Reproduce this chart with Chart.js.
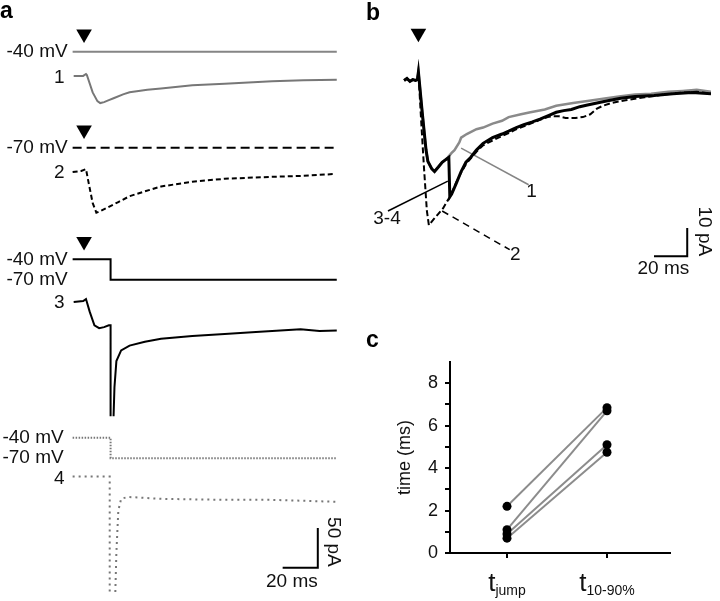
<!DOCTYPE html>
<html lang="en">
<head>
<meta charset="utf-8">
<title>Flash responses and voltage jumps</title>
<script src="https://cdn.jsdelivr.net/npm/chart.js@4.4.1/dist/chart.umd.min.js"></script>
<style>
  html, body { margin: 0; padding: 0; background: #fff; }
  #fig { position: relative; width: 720px; height: 601px; overflow: hidden; }
  #fig canvas { position: absolute; }
  #panelA { left: 0; top: 0; }
  #panelB { left: 360px; top: 0; }
  #panelC { left: 360px; top: 300px; }
</style>
</head>
<body>
<div id="fig">
  <canvas id="panelA" width="360" height="601"></canvas>
  <canvas id="panelB" width="360" height="300"></canvas>
  <canvas id="panelC" width="360" height="301"></canvas>
</div>
<script>
"use strict";

const FONT = '"Liberation Sans", Arial, sans-serif';
const GRAY = "#858585";
const LABEL_SIZE = 19;

/*---- Panel a: command potential (mV) and currents (pA), time in ms from the flash ----*/
const stepTime = [-6.5, 15.1, 15.1, 143.8];
const hold1 = [-40, -40, -40, -40];
const hold2 = [-70, -70, -70, -70];
const jump3 = [-40, -40, -70, -70];
const jump4 = [-40, -40, -70, -70];

const t1 = [-5.9, -0.5, 1.1, 1.6, 4.9, 7.6, 9.2, 11.4, 14.1, 16.8, 22.2, 25.9, 30, 36, 43.8, 61.6, 80, 107, 124.9, 143.8];
const i1 = [0, 0, 2.4, 1.2, -20.7, -31.7, -34.1, -32.9, -30.5, -28, -23.2, -20.5, -19.2, -17.5, -15.9, -11.8, -9.8, -6.6, -5.5, -4.9];

const t2 = [-6.5, -1.6, 1.1, 2.7, 4.9, 7, 9.7, 13, 19.5, 25.9, 34.6, 43.8, 61.6, 80, 107, 125, 142.7];
const i2 = [-1.2, 0, 2.4, -15.9, -40.2, -52.4, -50, -46.3, -39, -31.7, -25.6, -19.5, -13.4, -9.8, -7.3, -6.1, -3.7];

//null = trace runs off the bottom (clipped in the figure)
const t3 = [-5.9, -0.5, 1.1, 3.2, 5.9, 8.6, 11.4, 14.1, 15.1, 15.1, 16, 16.8, 17.3, 18.4, 21.1, 25.9, 34.6, 43.8, 61.6, 80, 97.8, 123.2, 134, 143.8];
const i3 = [-1.2, 0, 2.4, -13.4, -30.5, -34.1, -32.9, -30.5, -30.5, -145, null, -145, -108.5, -75.6, -62.2, -56.1, -51.2, -47.6, -43.9, -41.5, -39, -35.4, -37.8, -37.2];

const t4 = [-6.5, 14.6, 14.6, 16, 17.8, 18.4, 19.5, 21.1, 24.9, 43.8, 80, 107, 143.8];
const i4 = [0, 0, -145, null, -145, -95, -42.7, -28, -25.6, -28, -29.3, -29.3, -31.7];

const barA = { t: 113, i: -114.6, ms: 20, pA: 50 };

/*---- Panel b: the same currents overlaid at higher gain ----*/
const tB1 = [-8.6, -6.9, -5.1, -3.4, -1.7, -0.6, 0, 2.3, 4.6, 5.7, 8, 9.7, 12, 14.3, 16.6, 17.7, 20, 21.7, 24.6, 25.7, 29.1, 34.9, 38.9, 44.6, 50.3, 54.3, 61.7, 67.4, 76, 82.9, 93.1, 101.7, 113.1, 120.6, 130.3, 140, 150.3, 158.9, 167.4, 176];
const iB1 = [0, 0.7, -0.3, 0.3, 0, 0.3, 3, -11.3, -24.7, -28.7, -31.3, -32.3, -30.7, -29, -28, -27.3, -25.7, -24.7, -22, -20.3, -19, -17.3, -16.7, -15.3, -14.3, -13, -12, -11.3, -10.3, -9, -8, -7.3, -6.3, -5.7, -5, -4.7, -4, -3.7, -3.3, -4];

const tB2 = [-8.6, -6.9, -5.1, -3.4, -1.7, -0.6, 0, 1.7, 3.4, 5.1, 6.3, 9.1, 12, 14.9, 17.1, 18.9, 20, 22.9, 25.7, 28.6, 31.4, 34.9, 38.9, 44.6, 50.3, 54.3, 58.9, 63.4, 68.6, 73.1, 77.7, 80.6, 84.6, 88.6, 94.3, 98.9, 103.4, 107.4, 110.9, 116, 124.6, 136, 147.4, 158.9, 167.4, 176];
const iB2 = [0, 0.7, -0.3, 0.3, 0, 0.3, 3, -14.7, -31.3, -46.3, -51.3, -49.3, -47.3, -45.3, -43, -41.3, -40, -36, -32.7, -29.7, -27.7, -25.3, -23, -21.3, -19.7, -18.7, -17.3, -16.3, -15, -14, -13, -12.7, -12.7, -13.3, -13.3, -13, -12, -10, -9, -8, -7, -6, -5, -4.3, -4, -4.7];

const tB34 = [-8.6, -6.9, -5.1, -3.4, -1.7, -0.6, 0, 2.3, 4.6, 5.7, 8, 9.7, 12, 14.3, 16.6, 18.3, 18.9, 20, 22.9, 25.7, 28.6, 31.4, 34.9, 38.9, 44.6, 50.3, 54.3, 58.9, 63.4, 68.6, 73.1, 78.9, 82.9, 87.4, 92, 97.1, 101.7, 107.4, 113.1, 121.7, 130.3, 141.7, 153.1, 164.6, 176];
const iB34 = [0, 0.7, -0.3, 0.3, 0, 0.3, 3, -11.3, -24.7, -28.7, -31.3, -32.3, -30.7, -29, -28, -27.3, -41.3, -40.3, -36.3, -32.3, -29, -27.3, -24.7, -22.3, -20.3, -19, -18, -16.7, -15.7, -14.7, -13.7, -12.3, -11.3, -10.7, -10.3, -9.3, -8.7, -8, -7.3, -6.3, -5.7, -5.3, -4.7, -4.3, -4.7];

const barB = { t: 141.7, i: -62.3, ms: 20, pA: 10 };

/*---- Panel c: jump time vs 10-90% rise time ----*/
const CATS = ["jump", "10-90%"];
const tJump = [2.2, 1.1, 0.9, 0.7];
const t1090 = [6.85, 6.7, 5.1, 4.75];
const yTicks = [0, 1, 2, 3, 4, 5, 6, 7, 8];

/*---- helpers ----*/
function pts(xs, ys) {
  return xs.map((x, k) => ({ x: x, y: ys[k] }));
}

//hidden axis where value ref sits at pixel px, gain = pixels per unit
function xAxis(ref, px, gain, size) {
  return { type: "linear", display: false, min: ref - px / gain, max: ref + (size - px) / gain };
}
function yAxis(ref, px, gain, size) {
  return { type: "linear", axis: "y", position: "left", display: false,
    min: ref - (size - px) / gain, max: ref + px / gain };
}

function trace(data, axis, color, width, dash, order) {
  return {
    data: data, yAxisID: axis, borderColor: color, borderWidth: width,
    borderDash: dash || [], borderCapStyle: "butt", borderJoinStyle: "miter",
    pointRadius: 0, fill: false, tension: 0, spanGaps: false, order: order || 0
  };
}

function flashMark(y, axis) {
  return {
    data: [{ x: 0, y: y }], yAxisID: axis, showLine: false,
    pointStyle: "triangle", rotation: 180, pointRadius: 9,
    backgroundColor: "#000", borderWidth: 0, order: 0
  };
}

function scaleBar(b, axis) {
  return trace([
    { x: b.t, y: b.i },
    { x: b.t + b.ms, y: b.i },
    { x: b.t + b.ms, y: b.i + b.pA }
  ], axis, "#000", 2);
}

function drawText(ctx, text, x, y, o) {
  o = o || {};
  ctx.save();
  ctx.font = (o.bold ? "bold " : "") + (o.size || LABEL_SIZE) + "px " + FONT;
  ctx.fillStyle = o.color || "#111";
  ctx.textAlign = o.align || "left";
  ctx.textBaseline = o.baseline || "middle";
  ctx.translate(x, y);
  if (o.rotate) ctx.rotate(o.rotate);
  ctx.fillText(text, 0, 0);
  ctx.restore();
}

Chart.defaults.font.family = FONT;
const baseOptions = {
  responsive: false,
  animation: false,
  devicePixelRatio: 1,
  events: [],
  plugins: { legend: { display: false }, tooltip: { enabled: false } }
};

/*---- Panel a ----*/
const A_MS = 1.85, A_PA = 0.82, A_MV = 0.7;   //px per ms, pA, mV
const ARROW_MV = 26;                           //flash arrow sits above the holding line

const holdLabelsA = [
  { text: "-40 mV", axis: "v1", value: -40, gap: 5 },
  { text: "-70 mV", axis: "v2", value: -70, gap: 5 },
  { text: "-40 mV", axis: "v3", value: -40, gap: 5 },
  { text: "-70 mV", axis: "v3", value: -70, gap: 5 },
  { text: "-40 mV", axis: "v4", value: -40, gap: 9 },
  { text: "-70 mV", axis: "v4", value: -70, gap: 9 }
];
const traceLabelsA = [
  { text: "1", axis: "i1" }, { text: "2", axis: "i2" },
  { text: "3", axis: "i3" }, { text: "4", axis: "i4" }
];

const panelAText = {
  id: "panelAText",
  afterDraw(chart) {
    const { ctx, scales } = chart;
    const x0 = scales.x.getPixelForValue(stepTime[0]);
    drawText(ctx, "a", 0, 18, { size: 23, bold: true, baseline: "alphabetic", color: "#000" });
    holdLabelsA.forEach(l => {
      drawText(ctx, l.text, x0 - l.gap, scales[l.axis].getPixelForValue(l.value), { align: "right" });
    });
    traceLabelsA.forEach(l => {
      drawText(ctx, l.text, x0 - 8, scales[l.axis].getPixelForValue(0) + 2, { align: "right" });
    });
    const bx = scales.x.getPixelForValue(barA.t + barA.ms);
    const by = scales.i4.getPixelForValue(barA.i);
    drawText(ctx, barA.ms + " ms", bx, by + 14, { align: "right" });
    drawText(ctx, barA.pA + " pA", bx + 15, by - 1, { align: "right", rotate: Math.PI / 2 });
  }
};

new Chart(document.getElementById("panelA"), {
  type: "line",
  data: {
    datasets: [
      trace(pts(stepTime, hold1), "v1", GRAY, 2),
      trace(pts(t1, i1), "i1", "#777", 2),
      trace(pts(stepTime, hold2), "v2", "#000", 2, [9, 5]),
      trace(pts(t2, i2), "i2", "#000", 2, [5, 3]),
      trace(pts(stepTime, jump3), "v3", "#000", 2),
      trace(pts(t3, i3), "i3", "#000", 2),
      trace(pts(stepTime, jump4), "v4", "#777", 2, [1.5, 1.5]),
      trace(pts(t4, i4), "i4", "#777", 2, [2, 4]),
      flashMark(hold1[0] + ARROW_MV, "v1"),
      flashMark(hold2[0] + ARROW_MV, "v2"),
      flashMark(jump3[0] + ARROW_MV, "v3"),
      scaleBar(barA, "i4")
    ]
  },
  options: Object.assign({}, baseOptions, {
    layout: { padding: 0 },
    scales: {
      x: xAxis(0, 79, A_MS, 360),
      v1: yAxis(-40, 44, A_MV, 601),
      i1: yAxis(0, 69, A_PA, 601),
      v2: yAxis(-70, 143, A_MV, 601),
      i2: yAxis(0, 167, A_PA, 601),
      v3: yAxis(-40, 258, A_MV, 601),
      i3: yAxis(0, 301, A_PA, 601),
      v4: yAxis(-40, 442, A_MV, 601),
      i4: yAxis(0, 482, A_PA, 601)
    }
  }),
  plugins: [panelAText]
});

/*---- Panel b ----*/
const pointerLabelsB = [
  { text: "1", t: 68, i: -39.3, line: [[25.7, -24], [66.3, -37]], color: GRAY, dash: [] },
  { text: "3-4", t: -18.9, i: -49, line: [[17.7, -35.7], [-18.3, -46.3]], color: "#000", dash: [] },
  { text: "2", t: 58.3, i: -61.7, line: [[14.3, -46.3], [54.9, -60]], color: "#000", dash: [7, 5] }
];

const panelBText = {
  id: "panelBText",
  afterDraw(chart) {
    const { ctx, scales } = chart;
    drawText(ctx, "b", 6, 20, { size: 23, bold: true, baseline: "alphabetic", color: "#000" });
    pointerLabelsB.forEach(l => {
      drawText(ctx, l.text, scales.x.getPixelForValue(l.t), scales.y.getPixelForValue(l.i), { align: "center" });
    });
    const bx = scales.x.getPixelForValue(barB.t + barB.ms);
    const by = scales.y.getPixelForValue(barB.i);
    drawText(ctx, barB.ms + " ms", bx + 2, by + 13, { align: "right" });
    drawText(ctx, barB.pA + " pA", bx + 17, by, { align: "right", rotate: Math.PI / 2 });
  }
};

const pointerSets = pointerLabelsB.map(l =>
  trace(l.line.map(p => ({ x: p[0], y: p[1] })), "y", l.color, 1.5, l.dash, 3));

new Chart(document.getElementById("panelB"), {
  type: "line",
  data: {
    datasets: [
      trace(pts(tB34, iB34), "y", "#000", 3, [], 0),
      trace(pts(tB2, iB2), "y", "#000", 2, [6, 3], 1),
      trace(pts(tB1, iB1), "y", "#8a8a8a", 2.5, [], 2),
      flashMark(16.7, "y"),
      scaleBar(barB, "y")
    ].concat(pointerSets)
  },
  options: Object.assign({}, baseOptions, {
    layout: { padding: 0 },
    scales: {
      x: xAxis(0, 52, 1.75, 360),
      y: yAxis(0, 76, 3, 300)
    }
  }),
  plugins: [panelBText]
});

/*---- Panel c ----*/
const panelCText = {
  id: "panelCText",
  afterDraw(chart) {
    const { ctx, scales } = chart;
    drawText(ctx, "c", 6, 47, { size: 23, bold: true, baseline: "alphabetic", color: "#000" });
    const base = scales.y.getPixelForValue(0);
    CATS.forEach((c, k) => {
      const px = scales.x.getPixelForValue(k + 1);
      ctx.font = "26px " + FONT;
      const wt = ctx.measureText("t").width;
      ctx.font = "14px " + FONT;
      const ws = ctx.measureText(c).width;
      const left = px - (wt + ws) / 2;
      drawText(ctx, "t", left, base + 38, { size: 26, baseline: "alphabetic" });
      drawText(ctx, c, left + wt, base + 42, { size: 14, baseline: "alphabetic" });
    });
  }
};

const pairSets = tJump.map((v, k) => ({
  data: [{ x: 1, y: v }, { x: 2, y: t1090[k] }],
  borderColor: "#8c8c8c", borderWidth: 2, pointRadius: 0, order: 2
}));

new Chart(document.getElementById("panelC"), {
  type: "line",
  data: {
    datasets: [{
      data: pts(tJump.map(() => 1), tJump).concat(pts(t1090.map(() => 2), t1090)),
      showLine: false, pointRadius: 4.5, pointBackgroundColor: "#000",
      pointBorderWidth: 0, order: 1
    }].concat(pairSets)
  },
  options: Object.assign({}, baseOptions, {
    layout: { padding: { left: 0, top: 62, right: 50, bottom: 0 } },
    scales: {
      x: {
        type: "linear", min: 0.43, max: 2.63,
        afterBuildTicks: s => { s.ticks = CATS.map((c, k) => ({ value: k + 1 })); },
        ticks: { display: false },
        grid: { drawOnChartArea: false, drawTicks: true, tickLength: 5, color: "#000", lineWidth: 2 },
        border: { display: true, color: "#000", width: 2 },
        afterFit: s => { s.height = 48; }
      },
      y: {
        type: "linear", min: 0, max: 9,
        afterBuildTicks: s => { s.ticks = yTicks.map(v => ({ value: v })); },
        ticks: {
          autoSkip: false, padding: 7, color: "#111",
          font: { size: 18, family: FONT },
          callback: v => (v % 2 === 0 ? v : "")
        },
        grid: { drawOnChartArea: false, drawTicks: true, tickLength: 5, color: "#000", lineWidth: 2 },
        border: { display: true, color: "#000", width: 2 },
        title: {
          display: true, text: "time (ms)", color: "#111",
          font: { size: 18, family: FONT }, padding: { top: 34, bottom: 0 }
        },
        afterFit: s => { s.width = 90; }
      }
    }
  }),
  plugins: [panelCText]
});
</script>
</body>
</html>
